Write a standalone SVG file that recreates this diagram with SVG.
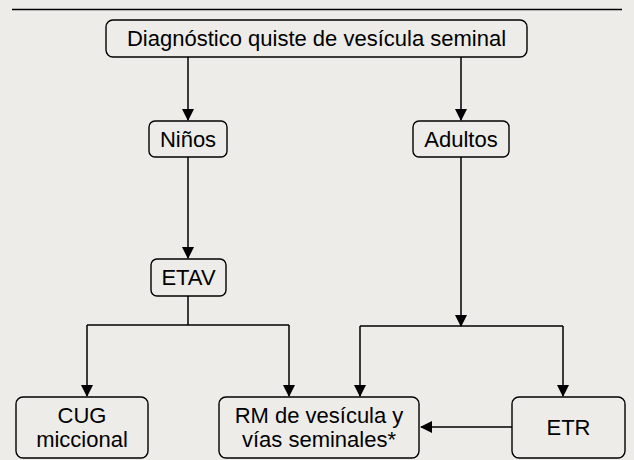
<svg xmlns="http://www.w3.org/2000/svg" width="634" height="460" viewBox="0 0 634 460">
<defs>
<marker id="ah" markerUnits="userSpaceOnUse" markerWidth="12" markerHeight="12" viewBox="0 0 12 12" refX="11" refY="6" orient="auto">
<path d="M0,0 L12,6 L0,12 Z" fill="#000"/>
</marker>
<style>
.box{fill:#EDECE8;stroke:#000;stroke-width:1.4}
.t{font-family:"Liberation Sans",Arial,sans-serif;font-size:22px;fill:#000;text-anchor:middle}
.c{fill:none;stroke:#000;stroke-width:1.5}
.a{marker-end:url(#ah)}
</style>
</defs>
<rect x="0" y="0" width="634" height="460" fill="#EDECE8"/>
<line x1="12" y1="9.5" x2="622" y2="9.5" stroke="#000" stroke-width="1.6"/>
<g id="connectors">
<path class="c a" d="M188,57 V120"/>
<path class="c a" d="M461,57 V120"/>
<path class="c a" d="M188,157 V258"/>
<path class="c" d="M188,296 V325 M87,325 H289"/>
<path class="c a" d="M87,325 V396"/>
<path class="c a" d="M289,325 V396"/>
<path class="c a" d="M461,157 V326"/>
<path class="c" d="M360,326 H563"/>
<path class="c a" d="M360,326 V396"/>
<path class="c a" d="M563,326 V396"/>
<path class="c a" d="M512,427 H421"/>
</g>
<g id="diagnostico">
<rect class="box" x="106" y="20" width="421" height="37" rx="7"/>
<text class="t" x="316.5" y="46">Diagnóstico quiste de vesícula seminal</text>
</g>
<g id="ninos">
<rect class="box" x="149" y="121" width="78" height="36" rx="6"/>
<text class="t" x="188" y="147">Niños</text>
</g>
<g id="adultos">
<rect class="box" x="413" y="121" width="96" height="36" rx="6"/>
<text class="t" x="461" y="147">Adultos</text>
</g>
<g id="etav">
<rect class="box" x="151" y="259" width="75" height="37" rx="6"/>
<text class="t" x="188.5" y="285">ETAV</text>
</g>
<g id="cug">
<rect class="box" x="16" y="397" width="132" height="61" rx="7"/>
<text class="t" x="82" y="423">CUG</text>
<text class="t" x="82" y="447">miccional</text>
</g>
<g id="rm">
<rect class="box" x="219" y="397" width="200" height="61" rx="7"/>
<text class="t" x="319" y="423">RM de vesícula y</text>
<text class="t" x="319" y="447">vías seminales*</text>
</g>
<g id="etr">
<rect class="box" x="512" y="397" width="113" height="61" rx="7"/>
<text class="t" x="568.5" y="435">ETR</text>
</g>
</svg>
